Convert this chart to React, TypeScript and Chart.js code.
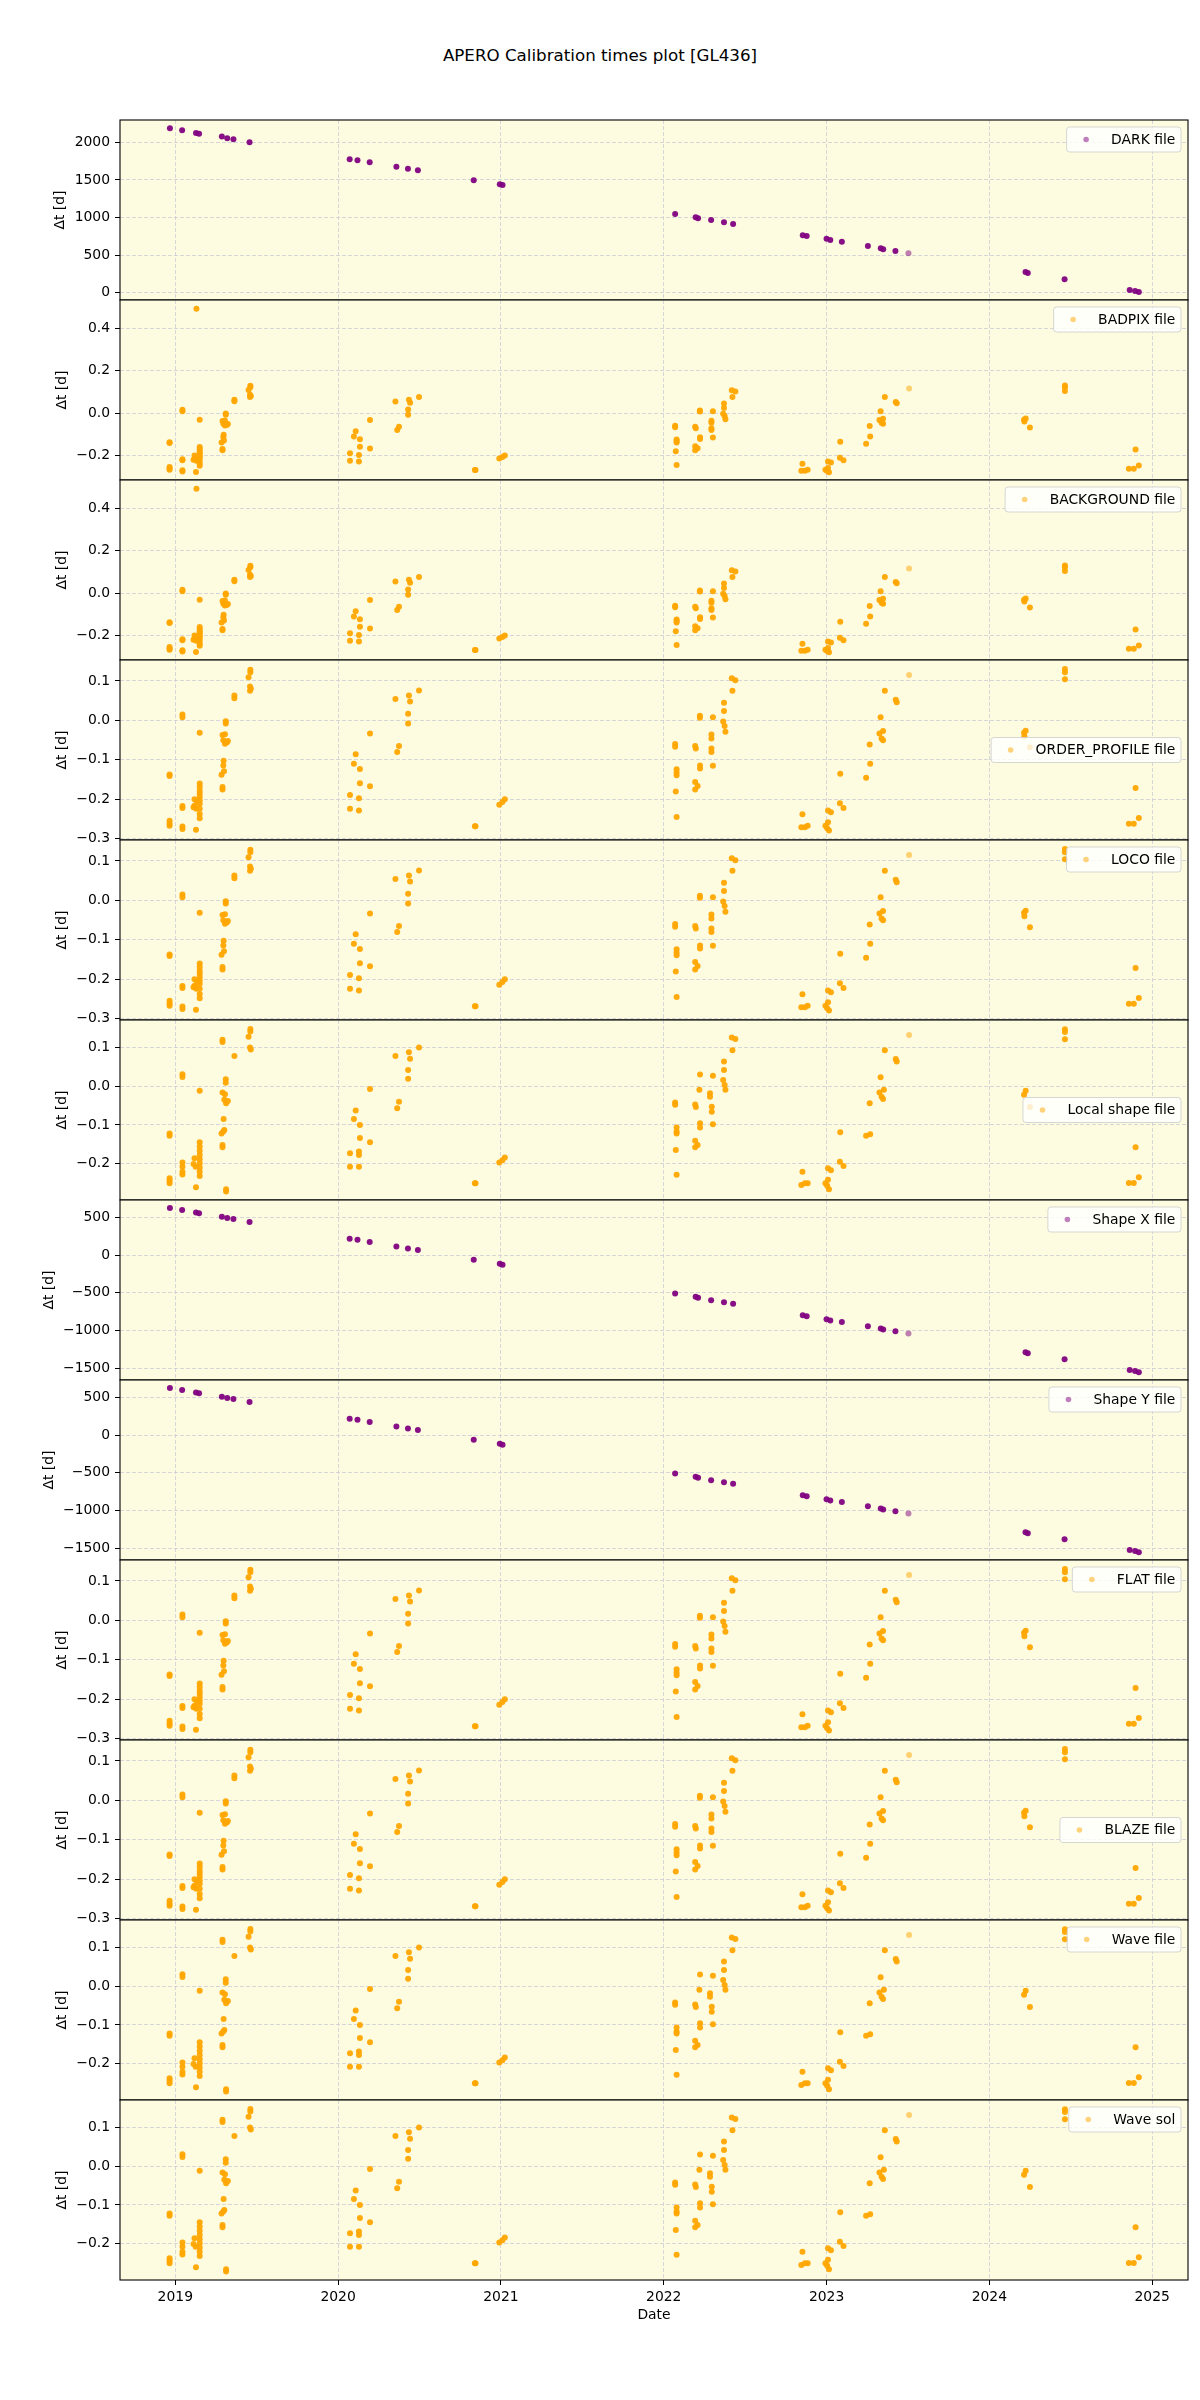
import React, { useEffect, useRef } from "react";
import { Chart, registerables } from "chart.js";

Chart.register(...registerables);

type Pt = [number, number, number?];

// ---------------- data ----------------
const TITLE = "APERO Calibration times plot [GL436]";
const X_LABEL = "Date";
const Y_LABEL = "Δt [d]";
const X_TICKS = [2019, 2020, 2021, 2022, 2023, 2024, 2025];

const DARK_TICKS = [0, 500, 1000, 1500, 2000];
const SHAPE_TICKS = [-1500, -1000, -500, 0, 500];
const BADPIX_TICKS = [-0.2, 0.0, 0.2, 0.4];
const PROFILE_TICKS = [-0.3, -0.2, -0.1, 0.0, 0.1];
const LOCAL_TICKS = [-0.2, -0.1, 0.0, 0.1];

// [decimal year, Δt, (n overlapping observations, default many)]
const darkData: Pt[] = [
  [2018.967, 2186], [2019.042, 2160], [2019.127, 2124], [2019.146, 2115], [2019.286, 2076],
  [2019.319, 2053], [2019.357, 2040], [2019.456, 2000], [2020.071, 1774], [2020.119, 1761],
  [2020.194, 1734], [2020.358, 1676], [2020.429, 1650], [2020.49, 1628], [2020.833, 1495],
  [2020.993, 1441], [2021.01, 1432], [2022.07, 1047], [2022.196, 1002], [2022.211, 989],
  [2022.291, 967], [2022.37, 936], [2022.426, 914], [2022.854, 763], [2022.878, 754],
  [2023.0, 718], [2023.023, 701], [2023.094, 678], [2023.254, 621], [2023.333, 590],
  [2023.348, 577], [2023.423, 554], [2023.503, 523, 1], [2024.222, 275], [2024.236, 262],
  [2024.462, 177], [2024.862, 35], [2024.895, 22], [2024.918, 10],
];

const shapeData: Pt[] = [
  [2018.967, 624], [2019.042, 597], [2019.127, 566], [2019.146, 553], [2019.286, 509],
  [2019.319, 491], [2019.357, 478], [2019.456, 438], [2020.071, 217], [2020.119, 204],
  [2020.194, 173], [2020.358, 115], [2020.429, 88], [2020.49, 66], [2020.833, -62],
  [2020.993, -115], [2021.01, -128], [2022.07, -509], [2022.196, -553], [2022.211, -566],
  [2022.291, -597], [2022.37, -624], [2022.426, -646], [2022.854, -797], [2022.878, -810],
  [2023.0, -850], [2023.023, -867], [2023.094, -885], [2023.254, -943], [2023.333, -974],
  [2023.348, -987], [2023.423, -1009], [2023.503, -1040, 1], [2024.222, -1288], [2024.236, -1301],
  [2024.462, -1381], [2024.862, -1522], [2024.895, -1535], [2024.918, -1553],
];

const profileData: Pt[] = [
  [2018.965, -0.137], [2018.965, -0.141], [2018.965, -0.254], [2018.965, -0.261], [2018.965, -0.267],
  [2019.044, 0.015], [2019.044, 0.008], [2019.044, -0.217], [2019.044, -0.222], [2019.044, -0.269], [2019.044, -0.275],
  [2019.127, -0.277], [2019.118, -0.2], [2019.118, -0.216], [2019.112, -0.22], [2019.133, -0.207], [2019.129, -0.224],
  [2019.15, -0.031], [2019.15, -0.16], [2019.15, -0.169], [2019.15, -0.178], [2019.15, -0.186], [2019.15, -0.194],
  [2019.15, -0.203], [2019.15, -0.211], [2019.15, -0.224], [2019.15, -0.237], [2019.15, -0.248],
  [2019.29, -0.037], [2019.305, -0.035], [2019.295, -0.05], [2019.305, -0.059], [2019.316, -0.056], [2019.323, -0.052],
  [2019.31, -0.002], [2019.31, -0.008],
  [2019.297, -0.102], [2019.295, -0.114], [2019.299, -0.129], [2019.284, -0.138],
  [2019.29, -0.169], [2019.29, -0.175],
  [2019.363, 0.063], [2019.363, 0.056],
  [2019.461, 0.128], [2019.461, 0.122], [2019.45, 0.109], [2019.459, 0.086], [2019.464, 0.08], [2019.459, 0.075],
  [2020.073, -0.189], [2020.073, -0.224], [2020.097, -0.11], [2020.108, -0.086], [2020.134, -0.123], [2020.134, -0.159],
  [2020.128, -0.197], [2020.128, -0.228], [2020.196, -0.033], [2020.196, -0.167],
  [2020.352, 0.054], [2020.363, -0.08], [2020.374, -0.065], [2020.435, 0.063], [2020.442, 0.048],
  [2020.43, 0.017], [2020.43, -0.008], [2020.497, 0.076],
  [2020.84, -0.268], [2020.844, -0.268], [2020.99, -0.214], [2021.009, -0.207], [2021.024, -0.2],
  [2022.07, -0.06], [2022.07, -0.067], [2022.079, -0.124], [2022.079, -0.132], [2022.079, -0.139], [2022.079, -0.245],
  [2022.074, -0.18],
  [2022.193, -0.065], [2022.197, -0.071], [2022.222, 0.012], [2022.222, 0.007], [2022.223, -0.114], [2022.223, -0.122],
  [2022.193, -0.156], [2022.208, -0.166], [2022.193, -0.175],
  [2022.293, -0.036], [2022.293, -0.046], [2022.293, -0.071], [2022.293, -0.08], [2022.302, 0.008], [2022.302, -0.115],
  [2022.37, 0.045], [2022.37, 0.024], [2022.365, -0.003], [2022.374, -0.014], [2022.379, -0.029],
  [2022.418, 0.107], [2022.44, 0.102], [2022.422, 0.075],
  [2022.852, -0.238], [2022.845, -0.271], [2022.867, -0.271], [2022.884, -0.267],
  [2023.009, -0.228], [2023.027, -0.233], [2022.993, -0.267], [2023.004, -0.273], [2023.015, -0.279], [2023.009, -0.258],
  [2023.082, -0.21], [2023.104, -0.222], [2023.084, -0.135],
  [2023.243, -0.145], [2023.268, -0.11], [2023.265, -0.061],
  [2023.325, -0.033], [2023.347, -0.027], [2023.338, -0.046], [2023.347, -0.05], [2023.332, 0.008],
  [2023.358, 0.075], [2023.425, 0.052], [2023.431, 0.046], [2023.507, 0.115, 1],
  [2024.213, -0.031], [2024.223, -0.026], [2024.215, -0.04], [2024.249, -0.068],
  [2024.464, 0.13], [2024.464, 0.122], [2024.464, 0.104],
  [2024.857, -0.262], [2024.887, -0.262], [2024.918, -0.247], [2024.898, -0.171],
];

const badpixOutlier: Pt[] = [[2019.13, 0.491]];

const localData: Pt[] = [
  [2018.965, -0.122], [2018.965, -0.128], [2018.965, -0.238], [2018.965, -0.244], [2018.965, -0.251],
  [2019.044, 0.031], [2019.044, 0.024], [2019.044, -0.197], [2019.044, -0.208], [2019.044, -0.221], [2019.044, -0.228],
  [2019.127, -0.261], [2019.118, -0.186], [2019.112, -0.201], [2019.125, -0.208],
  [2019.15, -0.012], [2019.15, -0.145], [2019.15, -0.156], [2019.15, -0.167], [2019.15, -0.178], [2019.15, -0.189],
  [2019.15, -0.199], [2019.15, -0.21], [2019.15, -0.221], [2019.15, -0.232],
  [2019.29, 0.12], [2019.29, 0.114], [2019.31, 0.018], [2019.31, 0.009],
  [2019.29, -0.016], [2019.305, -0.021], [2019.301, -0.035], [2019.312, -0.044], [2019.323, -0.038],
  [2019.297, -0.085], [2019.301, -0.113], [2019.295, -0.117], [2019.284, -0.122],
  [2019.29, -0.152], [2019.29, -0.158], [2019.312, -0.266], [2019.312, -0.272],
  [2019.363, 0.078], [2019.45, 0.128], [2019.461, 0.148], [2019.461, 0.141], [2019.459, 0.1], [2019.464, 0.095],
  [2020.073, -0.173], [2020.073, -0.208], [2020.097, -0.085], [2020.108, -0.063], [2020.134, -0.1], [2020.134, -0.134],
  [2020.128, -0.169], [2020.128, -0.178], [2020.128, -0.208], [2020.196, -0.007], [2020.196, -0.145],
  [2020.352, 0.078], [2020.363, -0.057], [2020.374, -0.04], [2020.435, 0.088], [2020.442, 0.071],
  [2020.43, 0.042], [2020.43, 0.019], [2020.497, 0.1],
  [2020.84, -0.251], [2020.844, -0.251], [2020.99, -0.197], [2021.009, -0.191], [2021.024, -0.184],
  [2022.07, -0.042], [2022.07, -0.048], [2022.079, -0.107], [2022.079, -0.117], [2022.079, -0.122], [2022.079, -0.229],
  [2022.074, -0.165],
  [2022.193, -0.047], [2022.197, -0.054], [2022.223, 0.03], [2022.219, -0.009], [2022.223, -0.096], [2022.223, -0.107],
  [2022.193, -0.141], [2022.208, -0.152], [2022.193, -0.158],
  [2022.284, -0.018], [2022.284, -0.027], [2022.295, -0.053], [2022.295, -0.066], [2022.302, 0.027], [2022.302, -0.098],
  [2022.37, 0.064], [2022.37, 0.042], [2022.365, 0.016], [2022.374, 0.003], [2022.379, -0.009],
  [2022.418, 0.126], [2022.44, 0.122], [2022.422, 0.093],
  [2022.852, -0.221], [2022.845, -0.255], [2022.867, -0.251], [2022.884, -0.251],
  [2023.009, -0.212], [2023.027, -0.217], [2022.993, -0.251], [2023.004, -0.257], [2023.015, -0.266], [2023.009, -0.242],
  [2023.082, -0.195], [2023.104, -0.206], [2023.084, -0.119],
  [2023.243, -0.128], [2023.268, -0.124], [2023.265, -0.044],
  [2023.325, -0.016], [2023.352, -0.009], [2023.338, -0.027], [2023.347, -0.033], [2023.332, 0.023],
  [2023.358, 0.093], [2023.425, 0.07], [2023.431, 0.064], [2023.507, 0.132, 1],
  [2024.213, -0.022], [2024.223, -0.012], [2024.249, -0.054],
  [2024.464, 0.147], [2024.464, 0.14], [2024.464, 0.121],
  [2024.857, -0.25], [2024.887, -0.25], [2024.918, -0.235], [2024.898, -0.158],
];

// ---------------- styling / layout ----------------
const ORANGE = [255, 165, 0];
const PURPLE = [128, 0, 128];
const BG = "#FDFCE0";
const GRID = "#cdcdd4";
const FONT = "DejaVu Sans";
const FS = 13.9;

const X_MIN = 2018.6604;
const X_MAX = 2025.22;
const PANEL_TOP = 120;
const PANEL_H = 180;
const PAD_T = 20;
const PAD_B = 20;
const X_AXIS_H_LAST = 60;
const AXIS_W = 120;
const RIGHT_PAD = 12;

type PanelCfg = {
  label: string;
  data: Pt[];
  rgb: number[];
  yMin: number;
  yMax: number;
  yTicks: number[];
  digits: number;
  legend: "upper" | "center";
};

const PANELS: PanelCfg[] = [
  { label: "DARK file", data: darkData, rgb: PURPLE, yMin: -98, yMax: 2297, yTicks: DARK_TICKS, digits: 0, legend: "upper" },
  { label: "BADPIX file", data: [...profileData, ...badpixOutlier], rgb: ORANGE, yMin: -0.315, yMax: 0.532, yTicks: BADPIX_TICKS, digits: 1, legend: "upper" },
  { label: "BACKGROUND file", data: [...profileData, ...badpixOutlier], rgb: ORANGE, yMin: -0.315, yMax: 0.532, yTicks: BADPIX_TICKS, digits: 1, legend: "upper" },
  { label: "ORDER_PROFILE file", data: profileData, rgb: ORANGE, yMin: -0.303, yMax: 0.153, yTicks: PROFILE_TICKS, digits: 1, legend: "center" },
  { label: "LOCO file", data: profileData, rgb: ORANGE, yMin: -0.303, yMax: 0.153, yTicks: PROFILE_TICKS, digits: 1, legend: "upper" },
  { label: "Local shape file", data: localData, rgb: ORANGE, yMin: -0.294, yMax: 0.171, yTicks: LOCAL_TICKS, digits: 1, legend: "center" },
  { label: "Shape X file", data: shapeData, rgb: PURPLE, yMin: -1655, yMax: 730, yTicks: SHAPE_TICKS, digits: 0, legend: "upper" },
  { label: "Shape Y file", data: shapeData, rgb: PURPLE, yMin: -1655, yMax: 730, yTicks: SHAPE_TICKS, digits: 0, legend: "upper" },
  { label: "FLAT file", data: profileData, rgb: ORANGE, yMin: -0.303, yMax: 0.153, yTicks: PROFILE_TICKS, digits: 1, legend: "upper" },
  { label: "BLAZE file", data: profileData, rgb: ORANGE, yMin: -0.303, yMax: 0.153, yTicks: PROFILE_TICKS, digits: 1, legend: "center" },
  { label: "Wave file", data: localData, rgb: ORANGE, yMin: -0.294, yMax: 0.171, yTicks: LOCAL_TICKS, digits: 1, legend: "upper" },
  { label: "Wave sol", data: localData, rgb: ORANGE, yMin: -0.294, yMax: 0.171, yTicks: LOCAL_TICKS, digits: 1, legend: "upper" },
];

const rgba = (c: number[], a: number) => `rgba(${c[0]},${c[1]},${c[2]},${a})`;
const fmt = (v: number, d: number) => {
  const s = Math.abs(v) < 1e-9 ? (0).toFixed(d) : v.toFixed(d);
  return s.replace("-", "\u2212");
};

function roundRect(ctx: CanvasRenderingContext2D, x: number, y: number, w: number, h: number, r: number) {
  ctx.beginPath();
  ctx.moveTo(x + r, y);
  ctx.lineTo(x + w - r, y);
  ctx.arcTo(x + w, y, x + w, y + r, r);
  ctx.lineTo(x + w, y + h - r);
  ctx.arcTo(x + w, y + h, x + w - r, y + h, r);
  ctx.lineTo(x + r, y + h);
  ctx.arcTo(x, y + h, x, y + h - r, r);
  ctx.lineTo(x, y + r);
  ctx.arcTo(x, y, x + r, y, r);
  ctx.closePath();
}

function Panel({ cfg, index }: { cfg: PanelCfg; index: number }) {
  const ref = useRef<HTMLCanvasElement | null>(null);
  const isLast = index === PANELS.length - 1;
  const xAxisH = isLast ? X_AXIS_H_LAST : 0;
  const h = PANEL_H + PAD_T + PAD_B + xAxisH;
  const top = PANEL_TOP + index * PANEL_H - PAD_T;

  useEffect(() => {
    if (!ref.current) return;
    const font = `${FS}px "${FONT}"`;
    const decor = {
      id: "decor",
      beforeDraw(chart: any) {
        const { ctx, chartArea: a } = chart;
        ctx.save();
        ctx.fillStyle = BG;
        ctx.fillRect(a.left, a.top, a.right - a.left, a.bottom - a.top);
        ctx.restore();
      },
      afterDatasetsDraw(chart: any) {
        const { ctx, chartArea: a } = chart;
        ctx.save();
        ctx.font = font;
        const tw = ctx.measureText(cfg.label).width;
        const bw = tw + 50.1;
        const bh = 25;
        const bx = a.right - 7 - bw;
        const by = cfg.legend === "upper" ? a.top + 7 : (a.top + a.bottom) / 2 - bh / 2;
        roundRect(ctx, bx, by, bw, bh, 3);
        ctx.fillStyle = "rgba(255,255,255,0.8)";
        ctx.fill();
        ctx.strokeStyle = "rgba(204,204,204,0.8)";
        ctx.lineWidth = 1;
        ctx.stroke();
        ctx.beginPath();
        ctx.arc(bx + 19.5, by + bh / 2, 2.8, 0, Math.PI * 2);
        ctx.fillStyle = rgba(cfg.rgb, 0.5);
        ctx.fill();
        ctx.fillStyle = "#000";
        ctx.textAlign = "left";
        ctx.textBaseline = "middle";
        ctx.fillText(cfg.label, bx + 44.5, by + bh / 2 + 0.5);
        ctx.restore();
      },
      afterDraw(chart: any) {
        const { ctx, chartArea: a } = chart;
        ctx.save();
        ctx.strokeStyle = "#000";
        ctx.lineWidth = 1.1;
        ctx.strokeRect(a.left, a.top, a.right - a.left, a.bottom - a.top);
        ctx.font = font;
        let maxW = 0;
        for (const t of cfg.yTicks) maxW = Math.max(maxW, ctx.measureText(fmt(t, cfg.digits)).width);
        const cx = a.left - 10 - maxW - 5.6 - 8.5;
        const cy = (a.top + a.bottom) / 2;
        ctx.translate(cx, cy);
        ctx.rotate(-Math.PI / 2);
        ctx.fillStyle = "#000";
        ctx.textAlign = "center";
        ctx.textBaseline = "middle";
        ctx.fillText(Y_LABEL, 0, 0);
        ctx.restore();
        if (isLast) {
          ctx.save();
          ctx.font = font;
          ctx.fillStyle = "#000";
          ctx.textAlign = "center";
          ctx.textBaseline = "alphabetic";
          ctx.fillText(X_LABEL, (a.left + a.right) / 2, a.bottom + 39.3);
          ctx.restore();
        }
      },
    };

    const chart = new Chart(ref.current, {
      type: "scatter",
      data: {
        datasets: [
          {
            label: cfg.label,
            data: cfg.data.map((p) => ({ x: p[0], y: p[1], n: p[2] ?? 4 })) as any,
            backgroundColor: (c: any) => rgba(cfg.rgb, 1 - Math.pow(0.5, c.raw?.n ?? 4)),
            borderWidth: 0,
            pointRadius: 3.0,
            pointHoverRadius: 3.0,
          } as any,
        ],
      },
      options: {
        responsive: false,
        animation: false,
        devicePixelRatio: 1,
        events: [],
        layout: { padding: { top: PAD_T, bottom: PAD_B, left: 0, right: RIGHT_PAD } },
        plugins: { legend: { display: false }, tooltip: { enabled: false }, title: { display: false } },
        scales: {
          x: {
            type: "linear",
            position: "bottom",
            min: X_MIN,
            max: X_MAX,
            afterBuildTicks: (s: any) => {
              s.ticks = X_TICKS.map((v) => ({ value: v }));
            },
            afterFit: (s: any) => {
              s.height = xAxisH;
            },
            grid: {
              color: GRID,
              lineWidth: 0.8,
              drawTicks: isLast,
              tickLength: 5,
              tickColor: "#000",
              tickWidth: 1,
            },
            border: { display: false, dash: [4, 2] },
            ticks: {
              display: isLast,
              autoSkip: false,
              maxRotation: 0,
              padding: 4,
              color: "#000",
              font: { family: FONT, size: FS },
              callback: (v: any) => String(v),
            },
          },
          y: {
            type: "linear",
            position: "left",
            min: cfg.yMin,
            max: cfg.yMax,
            afterBuildTicks: (s: any) => {
              s.ticks = cfg.yTicks.map((v) => ({ value: v }));
            },
            afterFit: (s: any) => {
              s.width = AXIS_W;
            },
            grid: {
              color: GRID,
              lineWidth: 0.8,
              drawTicks: true,
              tickLength: 5,
              tickColor: "#000",
              tickWidth: 1,
            },
            border: { display: false, dash: [4, 2] },
            ticks: {
              autoSkip: false,
              padding: 5,
              color: "#000",
              font: { family: FONT, size: FS },
              callback: (v: any) => fmt(Number(v), cfg.digits),
            },
          },
        },
      },
      plugins: [decor],
    } as any);
    return () => chart.destroy();
  }, []);

  return (
    <canvas
      ref={ref}
      width={1200}
      height={h}
      style={{ position: "absolute", left: 0, top, width: 1200, height: h }}
    />
  );
}

export default function App() {
  return (
    <div style={{ position: "absolute", left: 0, top: 0, width: 1200, height: 2400, background: "#fff" }}>
      <div
        style={{
          position: "absolute",
          left: 0,
          top: 44.7,
          width: 1200,
          textAlign: "center",
          fontFamily: FONT,
          fontSize: 16.7,
          lineHeight: "20px",
          color: "#000",
        }}
      >
        {TITLE}
      </div>
      {PANELS.map((p, i) => (
        <Panel key={i} cfg={p} index={i} />
      ))}
    </div>
  );
}
